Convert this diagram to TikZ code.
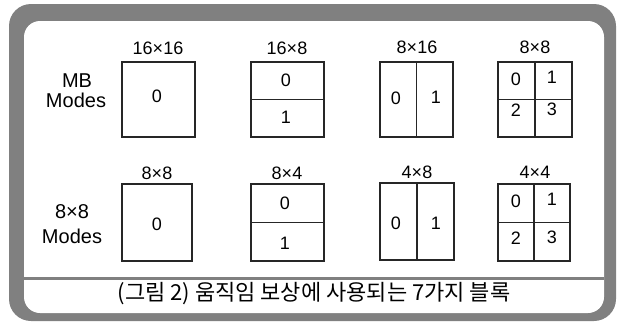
\documentclass[tikz,border=0pt]{standalone}
\usepackage{fontspec}
\setmainfont{Liberation Sans}
\newfontfamily\krfont{Noto Sans CJK KR}
\begin{document}
\begin{tikzpicture}[x=1pt,y=-1pt,
  blk/.style={draw=black!85, line width=1.1pt, inner sep=0pt, outer sep=0pt},
  dim/.style={font=\fontsize{18}{19}\selectfont, inner sep=0pt},
  num/.style={font=\fontsize{18}{19}\selectfont, inner sep=0pt},
  side/.style={font=\fontsize{20}{21}\selectfont, inner sep=0pt},
  divl/.style={draw=black!85, line width=1.1pt}]
\useasboundingbox (0,0) rectangle (622,322);
% frame
\fill[black!50, rounded corners=22pt] (9,4) rectangle (616,321);
\fill[white, rounded corners=16pt] (24,21) rectangle (604,313);
\fill[black!50] (24,277) rectangle (604,279.5);
% row 1
\node[side] (mb) at (77,81) {MB};
\node[side] (m1) at (76,100) {Modes};
\node[dim] (l11) at (158,48) {16×16};
\node[dim] (l12) at (287,48) {16×8};
\node[dim] (l13) at (417,47) {8×16};
\node[dim] (l14) at (535,47) {8×8};
\node[blk, minimum width=73, minimum height=75] (b11) at (158.5,99.5) {};
\node[blk, minimum width=73, minimum height=75] (b12) at (287.5,99.5) {};
\node[blk, minimum width=73, minimum height=75] (b13) at (416.5,99.5) {};
\node[blk, minimum width=74, minimum height=75] (b14) at (535,99.5) {};
\draw[divl] (b12.west) -- (b12.east);
\draw[divl] (b13.north) -- (b13.south);
\draw[divl] (b14.west) -- (b14.east);
\draw[divl] (b14.north) -- (b14.south);
\node[num] (n110) at (157,96) {0};
\node[num] (n120) at (286,80) {0};
\node[num] (n121) at (286,117) {1};
\node[num] (n130) at (396,98) {0};
\node[num] (n131) at (436,97) {1};
\node[num] (n140) at (516,79) {0};
\node[num] (n141) at (552,77) {1};
\node[num] (n142) at (516,110) {2};
\node[num] (n143) at (552,109) {3};
% row 2
\node[side] (e8) at (72,212) {8×8};
\node[side] (m2) at (72,236) {Modes};
\node[dim] (l21) at (157,173) {8×8};
\node[dim] (l22) at (287,173) {8×4};
\node[dim] (l23) at (417,172) {4×8};
\node[dim] (l24) at (535,172) {4×4};
\node[blk, minimum width=70, minimum height=77] (b21) at (157,222.5) {};
\node[blk, minimum width=73, minimum height=77] (b22) at (287.5,222.5) {};
\node[blk, minimum width=74, minimum height=77] (b23) at (417,221.5) {};
\node[blk, minimum width=72, minimum height=77] (b24) at (534,222.5) {};
\draw[divl] (b22.west) -- (b22.east);
\draw[divl] (b23.north) -- (b23.south);
\draw[divl] (b24.west) -- (b24.east);
\draw[divl] (b24.north) -- (b24.south);
\node[num] (n210) at (157,224) {0};
\node[num] (n220) at (285,203) {0};
\node[num] (n221) at (285,243) {1};
\node[num] (n230) at (396,223) {0};
\node[num] (n231) at (436,223) {1};
\node[num] (n240) at (516,201) {0};
\node[num] (n241) at (552,199) {1};
\node[num] (n242) at (516,238) {2};
\node[num] (n243) at (552,237) {3};
% caption
\node[font=\krfont\fontsize{22}{24}\selectfont, inner sep=0pt] (cap) at (314,294) {(그림 2) 움직임 보상에 사용되는 7가지 블록};
\end{tikzpicture}
\end{document}
